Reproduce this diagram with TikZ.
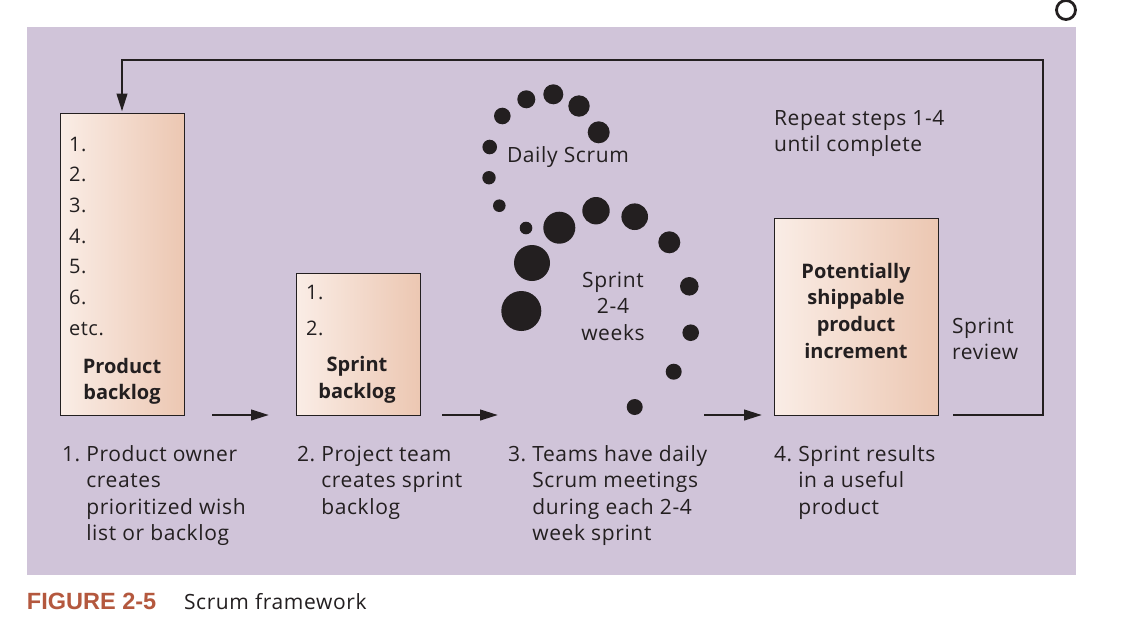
\documentclass[tikz,border=0pt]{standalone}
\usepackage{fontspec}
\setmainfont{Open Sans}[LetterSpace=3, BoldFeatures={LetterSpace=0}]
\newfontfamily\capfont{Liberation Sans}
\usetikzlibrary{arrows.meta}
\definecolor{bg}{RGB}{208,196,217}
\definecolor{boxL}{RGB}{250,237,230}
\definecolor{boxR}{RGB}{236,199,178}
\definecolor{ink}{RGB}{35,31,32}
\definecolor{capred}{RGB}{180,88,62}
\newcommand\mylines[2][l]{\begin{tabular}[t]{@{}#1@{}}#2\end{tabular}}
\newcommand\myhang[2]{\begin{tabular}[t]{@{}l@{\ }l@{}}#1\end{tabular}}
\begin{document}
\begin{tikzpicture}[x=1pt,y=-1pt,
  every node/.style={inner sep=0pt, outer sep=0pt, text=ink},
  stagebox/.style={draw=ink, line width=1pt, left color=boxL, right color=boxR},
  body/.style={font=\fontsize{21}{26.6}\selectfont, anchor=base west},
  bodyc/.style={font=\fontsize{21}{26.6}\selectfont, anchor=base},
  boxbold/.style={font=\fontsize{20}{26.6}\selectfont\bfseries, anchor=base},
  flow/.style={draw=ink, line width=2.6pt, -{Triangle[length=18pt,width=10.5pt]}},
  dot/.style={fill=ink}]
\useasboundingbox (0,0) rectangle (1129,622);
\fill[white] (0,0) rectangle (1129,622);
\fill[bg] (27,27) rectangle (1076,575);
\draw[ink, line width=2.8pt, fill=white] (1066,10) circle (9.5);

% boxes
\node[stagebox, minimum width=124pt, minimum height=302pt] (pb) at (122,264) {};
\node[stagebox, minimum width=124pt, minimum height=142pt] (sb) at (358,344) {};
\node[stagebox, minimum width=164pt, minimum height=197pt] (inc) at (856,316.5) {};

% box contents
\node[font=\fontsize{20}{30.7}\selectfont, anchor=base west] (pbitems) at (69,151)
  {\mylines{1.\\2.\\3.\\4.\\5.\\6.\\etc.}};
\node[boxbold] (pblabel) at (122,373) {\mylines[c]{Product\\backlog}};
\node[font=\fontsize{20}{36}\selectfont, anchor=base west] (sbitems) at (306,299)
  {\mylines{1.\\2.}};
\node[font=\fontsize{20}{27}\selectfont\bfseries, anchor=base] (sblabel) at (357,371) {\mylines[c]{Sprint\\backlog}};
\node[font=\fontsize{20}{26.8}\selectfont\bfseries, anchor=base] (inclabel) at (856,278)
  {\mylines[c]{Potentially\\shippable\\product\\increment}};

% other labels
\node[body] (repeat) at (774,125) {\mylines{Repeat steps 1-4\\until complete}};
\node[body] (review) at (952,333) {\mylines{Sprint\\review}};
\node[body] (daily) at (507,162) {Daily Scrum};
\node[bodyc] (sprint) at (613,287) {\mylines[c]{Sprint\\2-4\\weeks}};

% step texts
\node[body] (s1) at (62,461) {\myhang{1.&Product owner\\&creates\\&prioritized wish\\&list or backlog}{}};
\node[body] (s2) at (297,461) {\myhang{2.&Project team\\&creates sprint\\&backlog}{}};
\node[body] (s3) at (508,461) {\myhang{3.&Teams have daily\\&Scrum meetings\\&during each 2-4\\&week sprint}{}};
\node[body] (s4) at (774,461) {\myhang{4.&Sprint results\\&in a useful\\&product}{}};

% caption
\node[anchor=base west, font=\capfont\bfseries\fontsize{23.5}{28}\selectfont, text=capred] (figno) at (27,609) {FIGURE 2-5};
\node[anchor=base west, font=\fontsize{21}{28}\selectfont] (figtitle) at (184,609) {Scrum framework};

% dots of the sprint spiral
\foreach \x/\y/\r in {502.3/116/8.3, 526.3/99.3/9, 553.3/94.3/10, 579/106/10.7, 598.7/132.3/11,
  489.7/147/7.3, 489/177.7/6.7, 499.3/205.7/6.3, 526/228/6.3, 559.3/227.7/16,
  596/210.7/13.7, 634.7/216.7/13.3, 669.3/242.3/11, 532/263/18, 521.3/311/20,
  689.3/286.3/9.3, 690.7/332.7/8.3, 673.7/371.7/8, 634.7/407/8}
  \fill[dot] (\x,\y) circle (\r);

% connectors
\coordinate (a2end) at (498,415);
\coordinate (a3start) at (704,415);
\coordinate (rv) at (953,415);
\coordinate (tr) at (1043,60);
\draw[flow, shorten <=28pt, shorten >=27pt] (pb.south east) -- (sb.south west);
\draw[flow, shorten <=22pt] (sb.south east) -- (a2end);
\draw[flow, shorten >=12pt] (a3start) -- (inc.south west);
\draw[flow, shorten >=1.5pt] (rv) -| (tr) -| (pb.north);
\end{tikzpicture}
\end{document}
